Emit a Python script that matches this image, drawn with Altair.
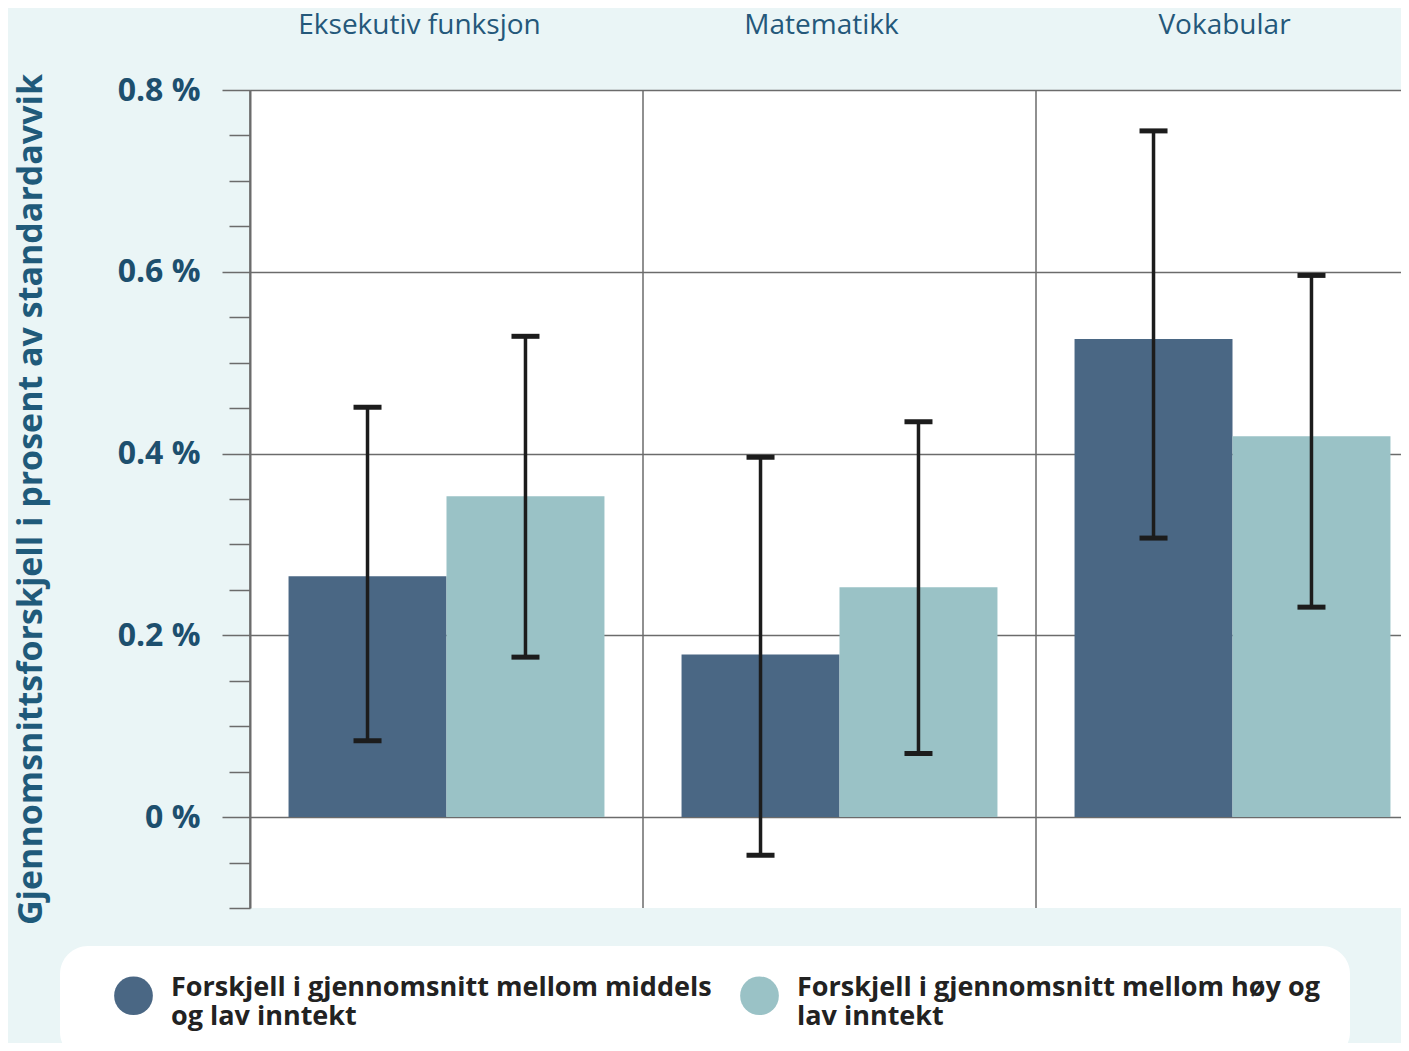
import altair as alt
import pandas as pd

categories = ["Eksekutiv funksjon", "Matematikk", "Vokabular"]
series = [
    "Forskjell i gjennomsnitt mellom middels\nog lav inntekt",
    "Forskjell i gjennomsnitt mellom høy og\nlav inntekt",
]
mid_val = [0.265, 0.179, 0.526]
mid_lo = [0.084, -0.042, 0.307]
mid_hi = [0.451, 0.396, 0.755]
high_val = [0.353, 0.253, 0.419]
high_lo = [0.176, 0.070, 0.231]
high_hi = [0.529, 0.435, 0.596]
y_ticks = [-0.1, -0.05, 0.0, 0.05, 0.1, 0.15, 0.2, 0.25, 0.3, 0.35, 0.4,
           0.45, 0.5, 0.55, 0.6, 0.65, 0.7, 0.75, 0.8]
colors = ["#4a6784", "#9ac2c6"]

rows = []
for i, c in enumerate(categories):
    rows.append(dict(cat=c, series=series[0], value=mid_val[i], lo=mid_lo[i], hi=mid_hi[i]))
    rows.append(dict(cat=c, series=series[1], value=high_val[i], lo=high_lo[i], hi=high_hi[i]))
df = pd.DataFrame(rows)
sep_df = pd.DataFrame({"cat": categories})

GRID = "#6b6b6b"
x_scale = alt.Scale(domain=categories, range=[0, 1179], paddingInner=0, paddingOuter=0)
xo_scale = alt.Scale(domain=series, paddingInner=0, paddingOuter=0.244)
y_scale = alt.Scale(domain=[-0.1, 0.8], nice=False, zero=False)
color_scale = alt.Scale(domain=series, range=colors)

major = "abs(datum.value*5 - round(datum.value*5)) < 0.001"
y_axis = alt.Axis(
    values=y_ticks,
    title="Gjennomsnittsforskjell i prosent av standardavvik",
    labelExpr=f"({major}) ? (datum.value == 0 ? '0 %' : format(datum.value, '.1f') + ' %') : ''",
    grid=True, gridColor=GRID, gridWidth=1.5,
    gridOpacity={"condition": {"test": major, "value": 1}, "value": 0},
    tickSize={"condition": {"test": major, "value": 28}, "value": 21},
    tickColor=GRID, tickWidth=1.5, domainColor=GRID, domainWidth=2,
    labelFont="Open Sans", labelFontSize=32, labelFontWeight="bold",
    labelColor="#1d4f6e", labelPadding=22,
    titleFont="Open Sans", titleFontSize=34, titleFontWeight="bold",
    titleColor="#1f5a7a", titleX=-219, titleY=409, titleAlign="center",
    titleBaseline="middle",
)
x_axis = alt.Axis(
    orient="top", title=None, ticks=False, domain=False, grid=False, labelAngle=0,
    labelFont="Open Sans", labelFontSize=28, labelColor="#24587a",
    labelPadding=51, labelLimit=600,
    labelOffset={
        "condition": [
            {"test": f"datum.value === '{categories[0]}'", "value": -27},
            {"test": f"datum.value === '{categories[2]}'", "value": -8},
        ],
        "value": -18,
    },
)
legend = alt.Legend(
    title=None, orient="none", legendX=-190, legendY=856, direction="horizontal",
    columns=2, symbolType="circle", symbolSize=1500, symbolStrokeWidth=0,
    symbolOpacity=1, labelFont="Open Sans", labelFontSize=27,
    labelFontWeight="bold", labelColor="#222222", labelLimit=800,
    labelBaseline="alphabetic",
    labelExpr="split(datum.label, '\\n')", symbolOffset=24, labelOffset=18,
    columnPadding=4, padding=30, fillColor="white", cornerRadius=28,
    gridAlign="all",
)

X = alt.X("cat:N", scale=x_scale, axis=x_axis, sort=categories)
XO = alt.XOffset("series:N", scale=xo_scale, sort=series)

base = alt.Chart(df)
bars = base.mark_bar().encode(
    x=X, xOffset=XO,
    y=alt.Y("value:Q", scale=y_scale, axis=y_axis, stack=None),
    color=alt.Color("series:N", scale=color_scale, legend=legend, sort=series),
)
seps = alt.Chart(sep_df).mark_rule(color=GRID, strokeWidth=1.5).encode(
    x=alt.X("cat:N", bandPosition=0, scale=x_scale, axis=x_axis, sort=categories),
)
err = base.mark_rule(color="#1c1c1c", strokeWidth=3.5).encode(
    x=X, xOffset=XO,
    y=alt.Y("lo:Q", scale=y_scale, axis=y_axis),
    y2="hi:Q",
)
cap_lo = base.mark_tick(color="#1c1c1c", thickness=5, size=28, opacity=1).encode(
    x=X, xOffset=XO,
    y=alt.Y("lo:Q", scale=y_scale, axis=y_axis),
)
cap_hi = base.mark_tick(color="#1c1c1c", thickness=5, size=28, opacity=1).encode(
    x=X, xOffset=XO,
    y=alt.Y("hi:Q", scale=y_scale, axis=y_axis),
)

chart = (
    alt.layer(bars, seps, err, cap_lo, cap_hi)
    .properties(
        width=1151, height=818,
        padding={"left": 242, "top": 82, "right": 0, "bottom": 135},
        autosize=alt.AutoSizeParams(type="none"),
    )
    .configure(background="#eaf5f6")
    .configure_view(fill="white", stroke=None)
)
chart.save("out.html", embed_options={"renderer": "svg", "actions": False})
